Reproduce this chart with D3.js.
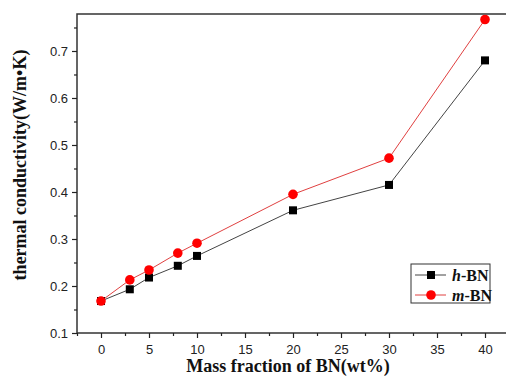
<!DOCTYPE html>
<html>
<head>
<meta charset="utf-8">
<script src="https://cdn.jsdelivr.net/npm/d3@7"></script>
<style>
body { margin: 0; background: #fff; }
svg { display: block; }
.tick text { font-family: Arial, "Liberation Sans", sans-serif; font-size: 13px; fill: #222; }
.ttl { font-family: "Times New Roman", "Liberation Serif", serif; font-weight: bold; fill: #111; }
</style>
</head>
<body>
<svg width="506" height="378"></svg>
<script>
// data
var massFraction = [0, 3, 5, 8, 10, 20, 30, 40];
var hBN = [0.168, 0.193, 0.218, 0.243, 0.264, 0.361, 0.415, 0.680];
var mBN = [0.168, 0.213, 0.234, 0.270, 0.291, 0.395, 0.472, 0.767];
var seriesNames = ["h", "m"];
var xTicks = [0, 5, 10, 15, 20, 25, 30, 35, 40];
var yTicks = [0.1, 0.2, 0.3, 0.4, 0.5, 0.6, 0.7];

var svg = d3.select("svg");

var x = d3.scaleLinear().domain([-2.5, 42.5]).range([77, 509]);
var y = d3.scaleLinear().domain([0.1, 0.7787]).range([333, 14]);

// frame
svg.append("rect")
	.attr("x", x(-2.5))
	.attr("y", y(0.7787))
	.attr("width", x(42.5) - x(-2.5))
	.attr("height", y(0.1) - y(0.7787))
	.attr("fill", "none")
	.attr("stroke", "#333")
	.attr("stroke-width", 1.5);

// minor ticks
var xMinor = d3.range(-2.5, 42.6, 2.5).filter(function(d){ return xTicks.indexOf(d) < 0; });
var yMinor = d3.range(0.15, 0.78, 0.1);

var xAxis = svg.append("g")
	.attr("transform", "translate(0," + y(0.1) + ")")
	.call(d3.axisBottom(x).tickValues(xTicks).tickSize(5).tickPadding(7).tickFormat(d3.format("d")));
xAxis.select(".domain").remove();
svg.append("g")
	.attr("transform", "translate(0," + y(0.1) + ")")
	.call(d3.axisBottom(x).tickValues(xMinor).tickSize(3).tickFormat(""))
	.select(".domain").remove();

var yAxis = svg.append("g")
	.attr("transform", "translate(" + x(-2.5) + ",0)")
	.call(d3.axisLeft(y).tickValues(yTicks).tickSize(5).tickPadding(4).tickFormat(d3.format(".1f")));
yAxis.select(".domain").remove();
svg.append("g")
	.attr("transform", "translate(" + x(-2.5) + ",0)")
	.call(d3.axisLeft(y).tickValues(yMinor).tickSize(3).tickFormat(""))
	.select(".domain").remove();

svg.selectAll(".tick line").attr("stroke", "#222").attr("stroke-width", 1.2);

// axis titles
svg.append("text")
	.attr("class", "ttl")
	.attr("x", 288)
	.attr("y", 372)
	.attr("text-anchor", "middle")
	.attr("font-size", 18)
	.text("Mass fraction of BN(wt%)");

svg.append("text")
	.attr("class", "ttl")
	.attr("transform", "translate(26,165) rotate(-90)")
	.attr("text-anchor", "middle")
	.attr("font-size", 18)
	.text("thermal conductivity(W/m\u2022K)");

// lines
var line = d3.line()
	.x(function(d, i){ return x(massFraction[i]); })
	.y(function(d){ return y(d); });

svg.append("path").datum(hBN)
	.attr("d", line).attr("fill", "none").attr("stroke", "#444").attr("stroke-width", 1);
svg.append("path").datum(mBN)
	.attr("d", line).attr("fill", "none").attr("stroke", "#e04040").attr("stroke-width", 1);

svg.selectAll(".sq").data(hBN).enter().append("rect")
	.attr("class", "sq")
	.attr("x", function(d, i){ return x(massFraction[i]) - 4; })
	.attr("y", function(d){ return y(d) - 4; })
	.attr("width", 8).attr("height", 8)
	.attr("fill", "#000");

svg.selectAll(".dot").data(mBN).enter().append("circle")
	.attr("class", "dot")
	.attr("cx", function(d, i){ return x(massFraction[i]); })
	.attr("cy", function(d){ return y(d); })
	.attr("r", 4.8)
	.attr("fill", "#ff0000");

// legend
var lg = svg.append("g");
lg.append("rect")
	.attr("x", 411).attr("y", 264).attr("width", 79).attr("height", 39)
	.attr("fill", "#fff").attr("stroke", "#333").attr("stroke-width", 1);

seriesNames.forEach(function(s, i){
	var yy = 275 + i * 20;
	lg.append("line")
		.attr("x1", 415).attr("x2", 446).attr("y1", yy).attr("y2", yy)
		.attr("stroke", i == 0 ? "#444" : "#e04040").attr("stroke-width", 1);
	if (i == 0) {
		lg.append("rect").attr("x", 427).attr("y", yy - 4).attr("width", 8).attr("height", 8).attr("fill", "#000");
	} else {
		lg.append("circle").attr("cx", 431).attr("cy", yy).attr("r", 4.8).attr("fill", "#ff0000");
	}
	var t = lg.append("text")
		.attr("class", "ttl")
		.attr("x", 452)
		.attr("y", yy + 5.5)
		.attr("font-size", 16);
	t.append("tspan").attr("font-style", "italic").text(s);
	t.append("tspan").text("-BN");
});
</script>
</body>
</html>
